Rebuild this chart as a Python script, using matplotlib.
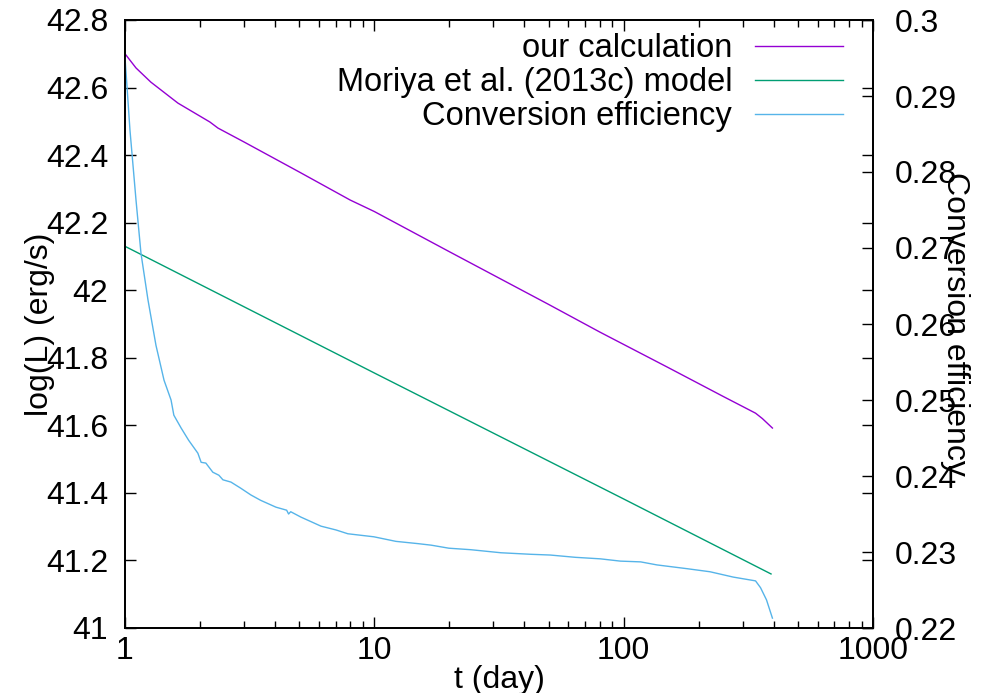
import matplotlib
matplotlib.use("Agg")
import matplotlib.pyplot as plt
from matplotlib.ticker import FixedLocator, FuncFormatter, LogLocator, NullFormatter

plt.rcParams['font.family'] = ['Liberation Sans', 'DejaVu Sans']

# our calculation
t_calc = [1.0, 1.107, 1.27, 1.63, 2.19, 2.36, 3.0, 5.0, 8.0, 10.0, 20.0, 50.0,
          80.3, 150.0, 250.0, 338.0, 360.0, 395.0]
logL_calc = [42.70, 42.658, 42.616, 42.554, 42.498, 42.480, 42.439, 42.35, 42.267,
             42.233, 42.114, 41.958, 41.876, 41.772, 41.686, 41.636, 41.620, 41.592]

# Moriya et al. (2013c) model
t_mor = [1.0, 10.0, 100.0, 390.0]
logL_mor = [42.13, 41.755, 41.382, 41.16]

# conversion efficiency (right axis)
t_eff = [1.0, 1.047, 1.107, 1.159, 1.236, 1.331, 1.434, 1.53, 1.57, 1.68, 1.80,
         1.96, 2.02, 2.11, 2.25, 2.38, 2.47, 2.66, 2.91, 3.20, 3.50, 4.03, 4.45,
         4.53, 4.62, 5.07, 6.11, 7.02, 7.83, 8.83, 9.96, 12.2, 14.97, 16.9, 19.9,
         24.4, 32.2, 42.3, 50.8, 64.0, 80.6, 97.0, 117.0, 136.0, 180.0, 222.0,
         275.0, 338.0, 354.0, 374.0, 395.0]
eff = [0.2951, 0.2855, 0.2763, 0.2693, 0.2632, 0.2572, 0.2526, 0.2500, 0.2480,
       0.2463, 0.2447, 0.2430, 0.2418, 0.2417, 0.2405, 0.2401, 0.2395, 0.2392,
       0.2384, 0.2375, 0.2368, 0.2359, 0.2355, 0.2350, 0.2353, 0.2346, 0.2334,
       0.2329, 0.2324, 0.2322, 0.2320, 0.2314, 0.2311, 0.2309, 0.2305, 0.2303,
       0.2299, 0.2297, 0.2296, 0.2293, 0.2291, 0.2288, 0.2287, 0.2283, 0.2278,
       0.2274, 0.2267, 0.2262, 0.2253, 0.2237, 0.2213]

xticks = [1, 10, 100, 1000]
yticks = [41.0, 41.2, 41.4, 41.6, 41.8, 42.0, 42.2, 42.4, 42.6, 42.8]
y2ticks = [0.22, 0.23, 0.24, 0.25, 0.26, 0.27, 0.28, 0.29, 0.30]

fs = 23

fig = plt.figure(figsize=(9.94, 6.93), dpi=100)
ax = fig.add_axes([125 / 994, 65 / 693, 748 / 994, 608 / 693])
ax2 = ax.twinx()

l1, = ax.plot(t_calc, logL_calc, color='#9400D3', lw=1.0, label='our calculation')
l2, = ax.plot(t_mor, logL_mor, color='#009E73', lw=1.0, label='Moriya et al. (2013c) model')
l3, = ax2.plot(t_eff, eff, color='#56B4E9', lw=1.0, label='Conversion efficiency')

ax.set_xscale('log')
ax.set_xlim(1, 1000)
ax.set_ylim(41, 42.8)
ax2.set_ylim(0.22, 0.30)

fmt = FuncFormatter(lambda v, p: '%g' % v)
ax.xaxis.set_major_locator(FixedLocator(xticks))
ax.xaxis.set_major_formatter(fmt)
ax.xaxis.set_minor_locator(LogLocator(base=10, subs=range(2, 10)))
ax.xaxis.set_minor_formatter(NullFormatter())
ax.yaxis.set_major_locator(FixedLocator(yticks))
ax.yaxis.set_major_formatter(fmt)
ax2.yaxis.set_major_locator(FixedLocator(y2ticks))
ax2.yaxis.set_major_formatter(fmt)

ax.tick_params(axis='x', which='both', direction='in', top=True, labelsize=fs, pad=6)
ax.tick_params(axis='x', which='major', length=8, width=1)
ax.tick_params(axis='x', which='minor', length=5, width=1)
ax.tick_params(axis='y', direction='in', right=True, length=8, width=1, labelsize=fs, pad=12)
ax2.tick_params(axis='y', direction='in', length=8, width=1, labelsize=fs, pad=16)

for a in (ax, ax2):
    for s in a.spines.values():
        s.set_linewidth(1.3)

ax.set_xlabel('t (day)', fontsize=fs)
ax.xaxis.set_label_coords(0.5, -0.085)
ax.xaxis.label.set_va('center')
ax.set_ylabel('log(L) (erg/s)', fontsize=fs)
ax.yaxis.set_label_coords(-0.114, 0.5)
ax.yaxis.label.set_va('center')
ax2.set_ylabel('Conversion efficiency', fontsize=fs, rotation=-90)
ax2.yaxis.set_label_coords(1.11, 0.5)
ax2.yaxis.label.set_va('center')

ax2.legend(handles=[l1, l2, l3], loc='upper right', bbox_to_anchor=(0.96, 0.978),
           frameon=False, markerfirst=False, fontsize=23.5, handlelength=2.7,
           handletextpad=0.7, labelspacing=0.09, borderpad=0, borderaxespad=0)

fig.savefig('out.png', dpi=100)
